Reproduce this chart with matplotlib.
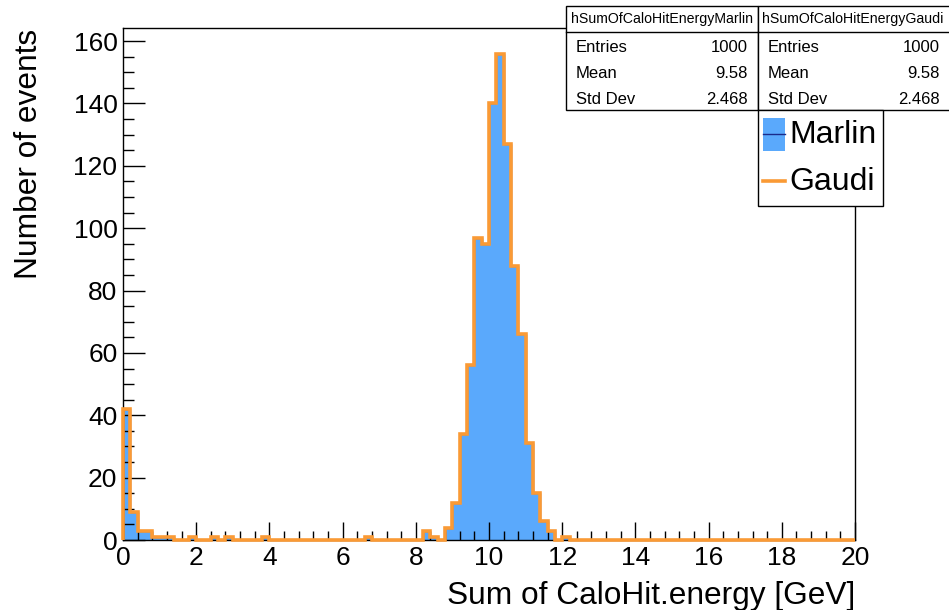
import numpy as np
import matplotlib
matplotlib.use("Agg")
import matplotlib.pyplot as plt
from matplotlib.patches import Rectangle
from matplotlib.lines import Line2D
from matplotlib.ticker import MultipleLocator

plt.rcParams['font.family'] = ['Liberation Sans', 'DejaVu Sans']

# ---- data ----
bin_edges = np.linspace(0, 20, 101)
counts_marlin = np.zeros(100)
nonzero = {0: 42, 1: 9, 2: 3, 3: 3, 4: 1, 5: 1, 6: 1, 9: 1, 12: 1, 14: 1, 19: 1,
           33: 1, 41: 3, 42: 1, 44: 4, 45: 12, 46: 34, 47: 56, 48: 97, 49: 95,
           50: 140, 51: 156, 52: 127, 53: 88, 54: 66, 55: 31, 56: 15, 57: 6,
           58: 3, 60: 1}
for k, v in nonzero.items():
    counts_marlin[k] = v
counts_gaudi = counts_marlin.copy()

stats_titles = ["hSumOfCaloHitEnergyMarlin", "hSumOfCaloHitEnergyGaudi"]
stats_labels = ["Entries", "Mean", "Std Dev"]
stats_values = [["1000", "9.58", "2.468"], ["1000", "9.58", "2.468"]]
legend_labels = ["Marlin", "Gaudi"]
x_ticks = [0, 2, 4, 6, 8, 10, 12, 14, 16, 18, 20]
y_ticks = [0, 20, 40, 60, 80, 100, 120, 140, 160]

BLUE = "#5aa9fc"
NAVY = "#1a2a8a"
ORANGE = "#fa9a35"

W, H = 949, 610
fig = plt.figure(figsize=(W / 100, H / 100), dpi=100)

def fx(x):
    return x / W

def fy(y):
    return 1 - y / H

L, R, T, B = 123, 855, 28, 540
ax = fig.add_axes([fx(L), fy(B), fx(R) - fx(L), fy(T) - fy(B)])

ax.stairs(counts_marlin, bin_edges, fill=True, color=BLUE, zorder=1)
ax.stairs(counts_marlin, bin_edges, color=NAVY, lw=1, zorder=2)
ax.stairs(counts_gaudi, bin_edges, color=ORANGE, lw=2.6, zorder=3, clip_on=False)

ax.set_xlim(0, 20)
ax.set_ylim(0, 164.2)
ax.set_xticks(x_ticks)
ax.set_yticks(y_ticks)
ax.xaxis.set_minor_locator(MultipleLocator(0.4))
ax.yaxis.set_minor_locator(MultipleLocator(5))
ax.tick_params(axis='x', which='major', direction='in', length=13, width=1,
               labelsize=19, pad=4)
ax.tick_params(axis='x', which='minor', direction='in', length=6.5, width=1)
ax.tick_params(axis='y', which='major', direction='in', length=16, width=1,
               labelsize=19, pad=4)
ax.tick_params(axis='y', which='minor', direction='in', length=8, width=1)
for s in ax.spines.values():
    s.set_linewidth(1)

# axis titles
fig.text(fx(855), fy(596), "Sum of CaloHit.energy [GeV]", ha='right', va='center',
         fontsize=22.8)
fig.text(fx(29), fy(29), "Number of events", ha='center', va='top', rotation=90,
         fontsize=22.8)

# stats boxes
box_x = [566, 758]
box_w = [192, 200]
top, hdr, bot = 6, 32, 110
row_y = [47, 73, 99]
for i in range(2):
    x0 = box_x[i]
    fig.patches.append(Rectangle((fx(x0), fy(bot)), fx(box_w[i]), fy(top) - fy(bot),
                                 transform=fig.transFigure, fill=True, facecolor='white',
                                 edgecolor='black', lw=1, zorder=5))
    fig.lines.append(Line2D([fx(x0), fx(x0 + box_w[i])], [fy(hdr), fy(hdr)],
                            transform=fig.transFigure, color='black', lw=1, zorder=6))
    fig.text(fx(x0 + 96 if i == 0 else x0 + 95), fy(19), stats_titles[i], ha='center',
             va='center', fontsize=10.2, zorder=7)
    for j in range(3):
        fig.text(fx(x0 + 10), fy(row_y[j]), stats_labels[j], ha='left', va='center',
                 fontsize=12, zorder=7)
        fig.text(fx(x0 + 182), fy(row_y[j]), stats_values[i][j], ha='right',
                 va='center', fontsize=12, zorder=7)

# legend
fig.patches.append(Rectangle((fx(758), fy(206)), fx(883 - 758), fy(110) - fy(206),
                             transform=fig.transFigure, facecolor='white',
                             edgecolor='black', lw=1, zorder=5))
fig.patches.append(Rectangle((fx(763), fy(151)), fx(22), fy(118) - fy(151),
                             transform=fig.transFigure, facecolor=BLUE,
                             edgecolor='none', zorder=6))
fig.lines.append(Line2D([fx(763), fx(785)], [fy(134), fy(134)],
                        transform=fig.transFigure, color=NAVY, lw=1, zorder=7))
fig.lines.append(Line2D([fx(763), fx(785)], [fy(181), fy(181)],
                        transform=fig.transFigure, color=ORANGE, lw=2.6, zorder=7))
fig.text(fx(789), fy(135), legend_labels[0], ha='left', va='center', fontsize=23, zorder=7)
fig.text(fx(789), fy(182), legend_labels[1], ha='left', va='center', fontsize=23, zorder=7)

fig.savefig("out.png", dpi=100)
